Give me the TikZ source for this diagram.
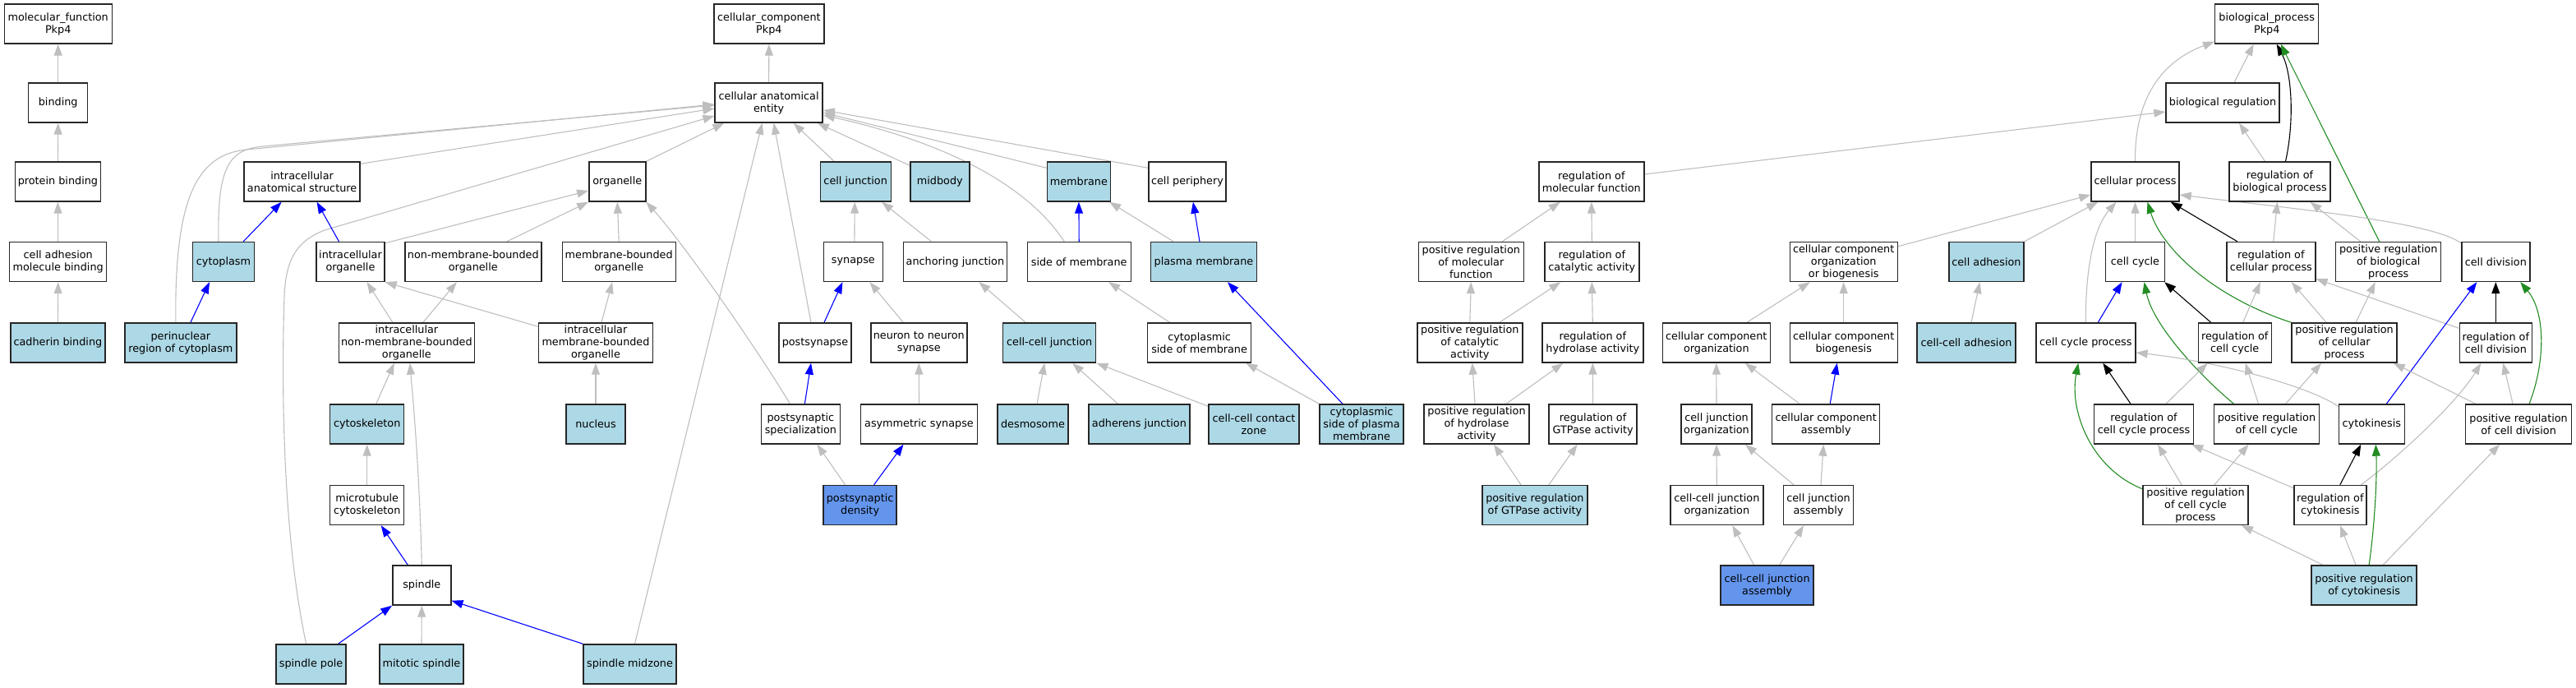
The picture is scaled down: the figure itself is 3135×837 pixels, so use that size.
\documentclass[tikz,border=0pt]{standalone}
\usepackage{fontspec}
\setmainfont{DejaVu Sans}
\usetikzlibrary{arrows.meta}
\definecolor{lblue}{HTML}{ADD8E6}
\definecolor{cblue}{HTML}{6495ED}
\definecolor{egray}{HTML}{BEBEBE}
\definecolor{fgreen}{HTML}{228B22}
\definecolor{pblue}{HTML}{0000FF}
\pgfdeclarelayer{bg}
\pgfsetlayers{bg,main}
\tikzset{
  box/.style={draw=black!85, line width=1.4pt, fill=white, align=center, minimum height=48pt, inner sep=2pt, font=\fontsize{12.8}{15}\selectfont},
  lb/.style={box, fill=lblue},
  db/.style={box, fill=cblue},
  ge/.style={draw=egray, line width=1.1pt, -{Triangle[length=14pt,width=10pt]}},
  be/.style={ge, draw=pblue},
  ke/.style={ge, draw=black},
  gre/.style={ge, draw=fgreen},
}
\begin{document}
\begin{tikzpicture}[x=1pt,y=-1pt]
\useasboundingbox (0,0) rectangle (3135,837);
% ---------- molecular function
\node[box, minimum width=131pt] (mf) at (70.7,29) {molecular\_function\\Pkp4};
\node[box, minimum width=72pt] (binding) at (70.7,125) {binding};
\node[box, minimum width=104pt] (protbind) at (70.4,221) {protein binding};
\node[box, minimum width=118pt] (camb) at (70.7,318.5) {cell adhesion\\molecule binding};
\node[lb, minimum width=115pt] (cadh) at (70.4,417) {cadherin binding};
% ---------- cellular component
\node[box, minimum width=134pt] (cc) at (935.9,29) {cellular\_component\\Pkp4};
\node[box, minimum width=131pt] (cae) at (935.6,125) {cellular anatomical\\entity};
\node[box, minimum width=141pt] (ias) at (367.6,221) {intracellular\\anatomical structure};
\node[box, minimum width=69pt] (organelle) at (751.3,221) {organelle};
\node[lb, minimum width=86pt] (celljunc) at (1041.2,221) {cell junction};
\node[lb, minimum width=72pt] (midbody) at (1143.8,221) {midbody};
\node[lb, minimum width=77pt] (membrane) at (1312.9,221) {membrane};
\node[box, minimum width=94pt] (cellper) at (1445,221) {cell periphery};
\node[lb, minimum width=75pt] (cytoplasm) at (272,318.5) {cytoplasm};
\node[box, minimum width=83pt] (intraorg) at (426.5,318.5) {intracellular\\organelle};
\node[box, minimum width=166pt] (nmbo) at (575.8,318.5) {non-membrane-bounded\\organelle};
\node[box, minimum width=138pt] (mbo) at (753.2,318.5) {membrane-bounded\\organelle};
\node[box, minimum width=72pt] (synapse) at (1038.4,318.5) {synapse};
\node[box, minimum width=126pt] (anchjunc) at (1162.4,318.5) {anchoring junction};
\node[box, minimum width=126pt] (sideofmem) at (1313.2,318.5) {side of membrane};
\node[lb, minimum width=129pt] (plasmamem) at (1465,318.5) {plasma membrane};
\node[lb, minimum width=136pt] (perinuc) at (219.9,417) {perinuclear\\region of cytoplasm};
\node[box, minimum width=165pt] (inmbo) at (494.9,417) {intracellular\\non-membrane-bounded\\organelle};
\node[box, minimum width=139pt] (imbo) at (725,417) {intracellular\\membrane-bounded\\organelle};
\node[box, minimum width=88pt] (postsynapse) at (992,417) {postsynapse};
\node[box, minimum width=117pt] (n2n) at (1118.3,417) {neuron to neuron\\synapse};
\node[lb, minimum width=113pt] (ccjunc) at (1277.2,417) {cell-cell junction};
\node[box, minimum width=126pt] (csm) at (1459.6,417) {cytoplasmic\\side of membrane};
\node[lb, minimum width=90pt] (cytoskel) at (446.7,516) {cytoskeleton};
\node[lb, minimum width=72pt] (nucleus) at (725,516) {nucleus};
\node[box, minimum width=96pt] (pss) at (974.4,516) {postsynaptic\\specialization};
\node[box, minimum width=142pt] (asym) at (1118.5,516) {asymmetric synapse};
\node[lb, minimum width=86pt] (desmo) at (1257,516) {desmosome};
\node[lb, minimum width=123pt] (adherens) at (1386.4,516) {adherens junction};
\node[lb, minimum width=110pt] (cccz) at (1526,516) {cell-cell contact\\zone};
\node[lb, minimum width=102pt] (cspm) at (1657,516) {cytoplasmic\\side of plasma\\membrane};
\node[box, minimum width=90pt] (mtcyto) at (446.7,614.5) {microtubule\\cytoskeleton};
\node[db, minimum width=89pt] (psd) at (1046.6,614.5) {postsynaptic\\density};
\node[box, minimum width=71pt] (spindle) at (513.3,712) {spindle};
\node[lb, minimum width=85pt] (spole) at (378.6,808) {spindle pole};
\node[lb, minimum width=102pt] (mitspindle) at (513,808) {mitotic spindle};
\node[lb, minimum width=113pt] (smidzone) at (766.5,808) {spindle midzone};
% ---------- biological process
\node[box, minimum width=126pt] (bp) at (2758.7,29) {biological\_process\\Pkp4};
\node[box, minimum width=138pt] (bioreg) at (2705,125) {biological regulation};
\node[box, minimum width=128pt] (regmf) at (1936.8,221) {regulation of\\molecular function};
\node[box, minimum width=107pt] (cellproc) at (2598.5,221) {cellular process};
\node[box, minimum width=123pt] (regbp) at (2774.5,221) {regulation of\\biological process};
\node[box, minimum width=128pt] (prmf) at (1790.3,318.5) {positive regulation\\of molecular\\function};
\node[box, minimum width=115pt] (regcat) at (1937.3,318.5) {regulation of\\catalytic activity};
\node[box, minimum width=131pt] (ccob) at (2243.7,318.5) {cellular component\\organization\\or biogenesis};
\node[lb, minimum width=91pt] (celladh) at (2417.4,318.5) {cell adhesion};
\node[box, minimum width=72pt] (cellcycle) at (2598.5,318.5) {cell cycle};
\node[box, minimum width=108pt] (regcp) at (2763.8,318.5) {regulation of\\cellular process};
\node[box, minimum width=128pt] (prbp) at (2906.7,318.5) {positive regulation\\of biological\\process};
\node[box, minimum width=83pt] (celldiv) at (3037.3,318.5) {cell division};
\node[box, minimum width=128pt] (prca) at (1788.8,417) {positive regulation\\of catalytic\\activity};
\node[box, minimum width=123pt] (reghyd) at (1938.3,417) {regulation of\\hydrolase activity};
\node[box, minimum width=131pt] (cco) at (2088.8,417) {cellular component\\organization};
\node[box, minimum width=131pt] (ccb) at (2243.7,417) {cellular component\\biogenesis};
\node[lb, minimum width=120pt] (ccadh) at (2393,417) {cell-cell adhesion};
\node[box, minimum width=121pt] (ccp) at (2538.3,417) {cell cycle process};
\node[box, minimum width=89pt] (regcc) at (2719.7,417) {regulation of\\cell cycle};
\node[box, minimum width=128pt] (prcp) at (2853.1,417) {positive regulation\\of cellular\\process};
\node[box, minimum width=88pt] (regcd) at (3037.3,417) {regulation of\\cell division};
\node[box, minimum width=128pt] (prha) at (1797,516) {positive regulation\\of hydrolase\\activity};
\node[box, minimum width=107pt] (reggtp) at (1938.6,516) {regulation of\\GTPase activity};
\node[box, minimum width=86pt] (cjo) at (2089,516) {cell junction\\organization};
\node[box, minimum width=131pt] (cca) at (2222.2,516) {cellular component\\assembly};
\node[box, minimum width=121pt] (regccp) at (2609,516) {regulation of\\cell cycle process};
\node[box, minimum width=128pt] (prcc) at (2758.5,516) {positive regulation\\of cell cycle};
\node[box, minimum width=80pt] (cytokinesis) at (2886.3,516) {cytokinesis};
\node[box, minimum width=129pt] (prcd) at (3065.1,516) {positive regulation\\of cell division};
\node[lb, minimum width=128pt] (prgtp) at (1867.9,614.5) {positive regulation\\of GTPase activity};
\node[box, minimum width=113pt] (ccjo) at (2089.3,614.5) {cell-cell junction\\organization};
\node[box, minimum width=85pt] (cja) at (2213,614.5) {cell junction\\assembly};
\node[box, minimum width=128pt] (prccp) at (2672,614.5) {positive regulation\\of cell cycle\\process};
\node[box, minimum width=88pt] (regck) at (2835.8,614.5) {regulation of\\cytokinesis};
\node[db, minimum width=113pt] (ccja) at (2150.6,712) {cell-cell junction\\assembly};
\node[lb, minimum width=128pt] (prck) at (2877.1,712) {positive regulation\\of cytokinesis};

\begin{pgfonlayer}{bg}
% MF
\draw[ge] (binding.north) -- (mf.south);
\draw[ge] (protbind.north) -- (binding.south);
\draw[ge] (camb.north) -- (protbind.south);
\draw[ge] (cadh.north) -- (camb.south);
% CC
\draw[ge] (cae.north) -- (cc.south);
\draw[ge] ([yshift=-3pt]ias.north east) -- ([yshift=-7pt]cae.west);
\draw[ge] (organelle.north east) -- ([xshift=12pt]cae.south west);
\draw[ge] ([xshift=-6pt]cytoplasm.north) .. controls (264,200) and (280,182) .. (320,178) -- ([yshift=-3pt]cae.west);
\draw[ge] ([xshift=-6pt]perinuc.north) .. controls (212,240) and (240,188) .. (300,182) -- ([yshift=-2pt]cae.west);
\draw[ge] ([xshift=-6pt]spole.north) .. controls (342,640) and (343,450) .. (346,360) .. controls (348,310) and (365,292) .. (395,280) -- ([yshift=-16pt]cae.west);
\draw[ge] ([xshift=6pt]smidzone.north) -- ([xshift=-8pt]cae.south);
\draw[ge] ([xshift=-5pt]postsynapse.north) -- ([xshift=6pt]cae.south);
\draw[ge] ([xshift=-13pt]pss.north) .. controls (925,430) and (835,300) .. (organelle.south east);
\draw[ge] ([xshift=-26pt]celljunc.north) -- ([xshift=30pt]cae.south);
\draw[ge] ([yshift=-5pt]midbody.north west) -- ([xshift=-7pt]cae.south east);
\draw[ge] ([xshift=-18pt]sideofmem.north) .. controls (1260,240) and (1180,180) .. ([yshift=-15pt]cae.east);
\draw[ge] ([yshift=-8pt]membrane.north west) -- ([yshift=-12pt]cae.east);
\draw[ge] ([yshift=-8pt]cellper.north west) -- ([yshift=-9pt]cae.east);
\draw[ge] ([xshift=1.5pt]synapse.north) -- ([xshift=-1pt]celljunc.south);
\draw[ge] ([xshift=-29pt]anchjunc.north) -- ([xshift=32pt]celljunc.south);
\draw[be] (sideofmem.north) -- (membrane.south);
\draw[ge] ([xshift=-37pt]plasmamem.north) -- ([xshift=-2pt]membrane.south east);
\draw[be] ([xshift=-5pt]plasmamem.north) -- ([xshift=7pt]cellper.south);
\draw[be] ([xshift=11pt]postsynapse.north) -- ([xshift=-13pt]synapse.south);
\draw[ge] ([xshift=-19pt]n2n.north) -- ([xshift=20pt]synapse.south);
\draw[ge] ([xshift=-29pt]ccjunc.north) -- ([xshift=29pt]anchjunc.south);
\draw[ge] ([xshift=-36pt]csm.north) -- ([xshift=36pt]sideofmem.south);
\draw[be] ([xshift=-23pt]cspm.north) -- ([xshift=29pt]plasmamem.south);
\draw[ge] (cspm.north west) -- ([xshift=-7pt]csm.south east);
\draw[be] ([xshift=-14pt]cytoplasm.north east) -- ([xshift=-25pt]ias.south);
\draw[be] ([xshift=-14pt]intraorg.north) -- ([xshift=18pt]ias.south);
\draw[be] ([xshift=12pt]perinuc.north) -- ([xshift=-17pt]cytoplasm.south);
\draw[ge] ([yshift=-2pt]intraorg.north east) -- ([yshift=-11pt]organelle.west);
\draw[ge] ([xshift=41pt]nmbo.north) -- (organelle.south west);
\draw[ge] (mbo.north) -- (organelle.south);
\draw[ge] ([xshift=-17pt]inmbo.north) -- ([xshift=20pt]intraorg.south);
\draw[ge] ([xshift=20pt]inmbo.north) -- ([xshift=-20pt]nmbo.south);
\draw[ge] ([yshift=-5pt]imbo.north west) -- (intraorg.south east);
\draw[ge] ([xshift=7pt]imbo.north) -- ([xshift=-8pt]mbo.south);
\draw[ge] ([xshift=11pt]cytoskel.north) -- ([xshift=-15pt]inmbo.south);
\draw[ge] (spindle.north) .. controls (510,560) and (502,480) .. ([xshift=4pt]inmbo.south);
\draw[ge] (nucleus.north) -- (imbo.south);
\draw[ge] (mtcyto.north) -- (cytoskel.south);
\draw[be] ([xshift=-17pt]spindle.north) -- ([xshift=17pt]mtcyto.south);
\draw[be] ([xshift=33pt]spole.north) -- (spindle.south west);
\draw[ge] (mitspindle.north) -- (spindle.south);
\draw[be] (smidzone.north west) -- ([yshift=6pt]spindle.south east);
\draw[be] ([xshift=5pt]pss.north) -- ([xshift=-5pt]postsynapse.south);
\draw[ge] (asym.north) -- (n2n.south);
\draw[ge] ([xshift=-18pt]psd.north) -- ([xshift=20pt]pss.south);
\draw[be] ([xshift=17pt]psd.north) -- ([xshift=-19pt]asym.south);
\draw[ge] ([xshift=5pt]desmo.north) -- ([xshift=-6pt]ccjunc.south);
\draw[ge] ([xshift=-26pt]adherens.north) -- ([xshift=28pt]ccjunc.south);
\draw[ge] ([yshift=-3pt]cccz.north west) -- (ccjunc.south east);
% BP
\draw[ge] ([yshift=9pt]regmf.east) -- ([yshift=-11pt]bioreg.west);
\draw[ge] ([xshift=38pt]prmf.north) -- ([xshift=-38pt]regmf.south);
\draw[ge] (regcat.north) -- (regmf.south);
\draw[ge] (prca.north) -- (prmf.south);
\draw[ge] ([xshift=36pt]prca.north) -- ([xshift=-38pt]regcat.south);
\draw[ge] (reghyd.north) -- (regcat.south);
\draw[ge] ([xshift=-2pt]prha.north) -- ([xshift=3pt]prca.south);
\draw[ge] ([xshift=36pt]prha.north) -- ([xshift=-36pt]reghyd.south);
\draw[ge] (reggtp.north) -- (reghyd.south);
\draw[ge] ([xshift=-17pt]prgtp.north) -- ([xshift=21pt]prha.south);
\draw[ge] ([xshift=17pt]prgtp.north) -- ([xshift=-19pt]reggtp.south);
\draw[ge] ([xshift=37pt]cco.north) -- ([xshift=-41pt]ccob.south);
\draw[ge] (ccb.north) -- (ccob.south);
\draw[ge] (cjo.north) -- (cco.south);
\draw[ge] ([xshift=-32pt]cca.north) -- ([xshift=35pt]cco.south);
\draw[be] ([xshift=5pt]cca.north) -- ([xshift=-8pt]ccb.south);
\draw[ge] (ccjo.north) -- (cjo.south);
\draw[ge] ([xshift=-30pt]cja.north) -- ([xshift=35pt]cjo.south);
\draw[ge] ([xshift=3pt]cja.north) -- ([xshift=-3pt]cca.south);
\draw[ge] ([xshift=-16pt]ccja.north) -- ([xshift=19pt]ccjo.south);
\draw[ge] ([xshift=15pt]ccja.north) -- ([xshift=-18pt]cja.south);
\draw[ge] ([yshift=-6pt]ccob.north east) -- ([yshift=-16pt]cellproc.west);
\draw[ge] ([xshift=14pt]bioreg.north) -- ([xshift=-16pt]bp.south);
\draw[ge] (cellproc.north) .. controls (2598,120) and (2630,75) .. ([yshift=3pt]bp.south west);
\draw[ke] ([xshift=7pt]regbp.north) .. controls (2792,150) and (2790,90) .. ([xshift=12pt]bp.south);
\draw[gre] ([xshift=-11pt]prbp.north) -- ([xshift=17pt]bp.south);
\draw[ge] ([xshift=-18pt]regbp.north) -- ([xshift=20pt]bioreg.south);
\draw[ge] (celladh.north east) -- ([xshift=9pt]cellproc.south west);
\draw[ge] (ccp.north) .. controls (2538,320) and (2550,275) .. ([xshift=-23pt]cellproc.south);
\draw[ge] (cellcycle.north) -- (cellproc.south);
\draw[gre] (prcp.north west) .. controls (2690,360) and (2630,300) .. ([xshift=15pt]cellproc.south);
\draw[ke] ([xshift=-41pt]regcp.north) -- ([xshift=-11pt]cellproc.south east);
\draw[ge] ([yshift=-2pt]celldiv.north west) .. controls (2960,270) and (2800,255) .. ([yshift=-16pt]cellproc.east);
\draw[ge] ([xshift=3pt]regcp.north) -- ([xshift=-3pt]regbp.south);
\draw[ge] ([xshift=-34pt]prbp.north) -- ([xshift=37pt]regbp.south);
\draw[ge] ([xshift=6pt]ccadh.north) -- ([xshift=-8pt]celladh.south);
\draw[be] ([xshift=15pt]ccp.north) -- ([xshift=-16pt]cellcycle.south);
\draw[gre] ([xshift=-40pt]prcc.north) .. controls (2675,455) and (2620,395) .. ([xshift=11pt]cellcycle.south);
\draw[ke] ([xshift=-29pt]regcc.north) -- ([xshift=-1pt]cellcycle.south east);
\draw[ge] ([xshift=10pt]regcc.north) -- ([xshift=-13pt]regcp.south);
\draw[ge] ([xshift=-22pt]prcp.north) -- ([xshift=25pt]regcp.south);
\draw[ge] ([xshift=14pt]prcp.north) -- ([xshift=-16pt]prbp.south);
\draw[ge] ([yshift=-7pt]regcd.north west) -- ([yshift=4pt]regcp.south east);
\draw[ke] (regcd.north) -- (celldiv.south);
\draw[be] ([xshift=18pt]cytokinesis.north) -- ([xshift=-23pt]celldiv.south);
\draw[gre] ([xshift=13pt]prcd.north) .. controls (3098,440) and (3098,380) .. ([xshift=30pt]celldiv.south);
\draw[ke] ([xshift=-16pt]regccp.north) -- ([xshift=21pt]ccp.south);
\draw[ge] ([xshift=27pt]regccp.north) -- ([xshift=-33pt]regcc.south);
\draw[ge] ([xshift=-10pt]prcc.north) -- ([xshift=13pt]regcc.south);
\draw[ge] ([xshift=23pt]prcc.north) -- ([xshift=-28pt]prcp.south);
\draw[ge] ([yshift=-3pt]cytokinesis.north west) .. controls (2810,470) and (2700,440) .. ([yshift=-12pt]ccp.east);
\draw[ge] ([xshift=-7pt]prcd.north) -- ([xshift=9pt]regcd.south);
\draw[ge] ([xshift=13pt]prcd.north west) -- ([xshift=-5pt]prcp.south east);
\draw[gre] ([yshift=-5pt]prccp.north west) .. controls (2545,570) and (2518,500) .. ([xshift=-9pt]ccp.south);
\draw[ge] ([xshift=-17pt]prccp.north) -- ([xshift=17pt]regccp.south);
\draw[ge] ([xshift=23pt]prccp.north) -- ([xshift=-22pt]prcc.south);
\draw[ke] ([xshift=12pt]regck.north) -- ([xshift=-13pt]cytokinesis.south);
\draw[ge] ([yshift=-4pt]regck.north west) -- ([xshift=-3pt]regccp.south east);
\draw[ge] ([xshift=-7pt]regck.north east) .. controls (2920,555) and (2990,490) .. ([xshift=-18pt]regcd.south);
\draw[ge] ([xshift=-50pt]prck.north) -- ([xshift=56pt]prccp.south);
\draw[ge] ([xshift=-10pt]prck.north) -- ([xshift=12pt]regck.south);
\draw[gre] ([xshift=6pt]prck.north) .. controls (2890,640) and (2893,580) .. ([xshift=5pt]cytokinesis.south);
\draw[ge] ([xshift=23pt]prck.north) -- ([xshift=-23pt]prcd.south);
\end{pgfonlayer}
\end{tikzpicture}
\end{document}
